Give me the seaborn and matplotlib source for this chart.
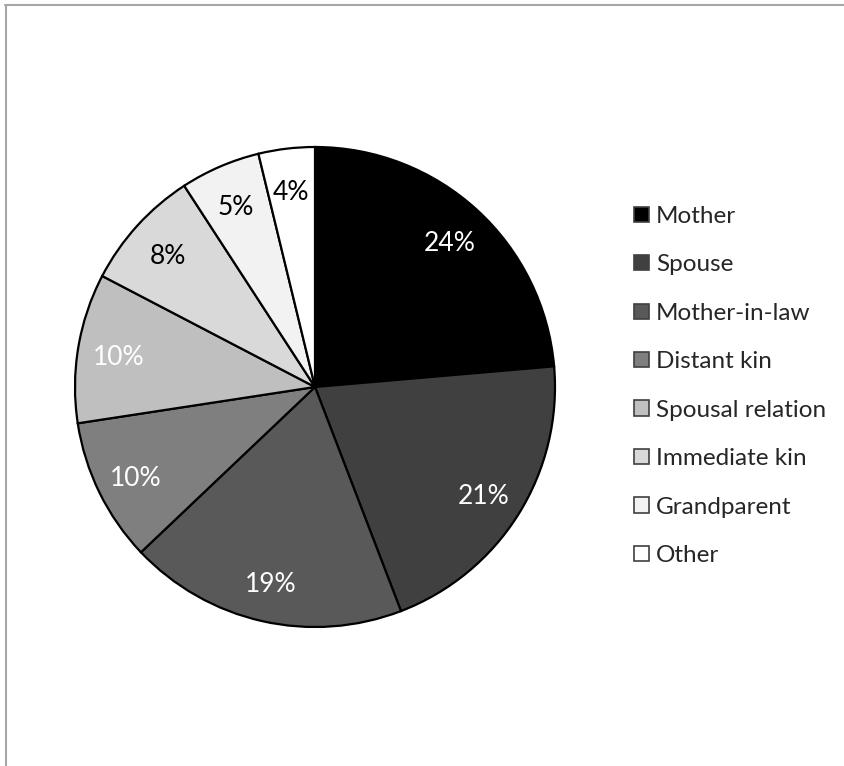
import matplotlib
matplotlib.use("Agg")
import matplotlib.pyplot as plt
from matplotlib.patches import Patch
from matplotlib.lines import Line2D
import numpy as np
import seaborn as sns

categories = ["Mother", "Spouse", "Mother-in-law", "Distant kin",
              "Spousal relation", "Immediate kin", "Grandparent", "Other"]
values = [23.7, 20.6, 18.8, 9.7, 10.1, 8.2, 5.4, 3.8]
labels = ["24%", "21%", "19%", "10%", "10%", "8%", "5%", "4%"]
colors = ["#000000", "#404040", "#595959", "#7f7f7f",
          "#bfbfbf", "#d9d9d9", "#f2f2f2", "#ffffff"]
text_colors = ["white", "white", "white", "white", "white", "black", "black", "black"]

sns.set_theme(style="white")
plt.rcParams["font.family"] = ["Lato", "DejaVu Sans"]

W, H = 844, 766
fig = plt.figure(figsize=(W / 100, H / 100), dpi=100)
fig.patch.set_facecolor("white")

cx, cy, r = 315, 387, 240
ax = fig.add_axes([(cx - r) / W, (H - cy - r) / H, 2 * r / W, 2 * r / H])
wedges, _ = ax.pie(values, colors=colors, startangle=90, counterclock=False,
                   wedgeprops=dict(edgecolor="black", linewidth=1.6))
total = sum(values)
ang = 90.0
for v, lab, tc in zip(values, labels, text_colors):
    span = v / total * 360
    mid = np.deg2rad(ang - span / 2)
    ang -= span
    ax.text(0.83 * np.cos(mid), 0.83 * np.sin(mid) - 0.015, lab, ha="center", va="center",
            fontsize=19, color=tc)
ax.set_xlim(-1, 1)
ax.set_ylim(-1, 1)
ax.set_aspect("equal")
ax.axis("off")

handles = [Patch(facecolor=c, edgecolor="#404040", linewidth=1.2) for c in colors]
fig.legend(handles, categories, loc="center left", bbox_to_anchor=(634 / W, 1 - 386 / H),
           frameon=False, fontsize=17.5, handlelength=0.6, handleheight=0.6,
           handletextpad=0.3, labelspacing=1.13, borderaxespad=0, borderpad=0)

fig.add_artist(Line2D([5 / W, 1], [1 - 5 / H, 1 - 5 / H], color="#a6a6a6", lw=1.5,
                      transform=fig.transFigure))
fig.add_artist(Line2D([6 / W, 6 / W], [0, 1 - 5 / H], color="#a6a6a6", lw=1.5,
                      transform=fig.transFigure))

fig.savefig("out.png", dpi=100, facecolor="white")
